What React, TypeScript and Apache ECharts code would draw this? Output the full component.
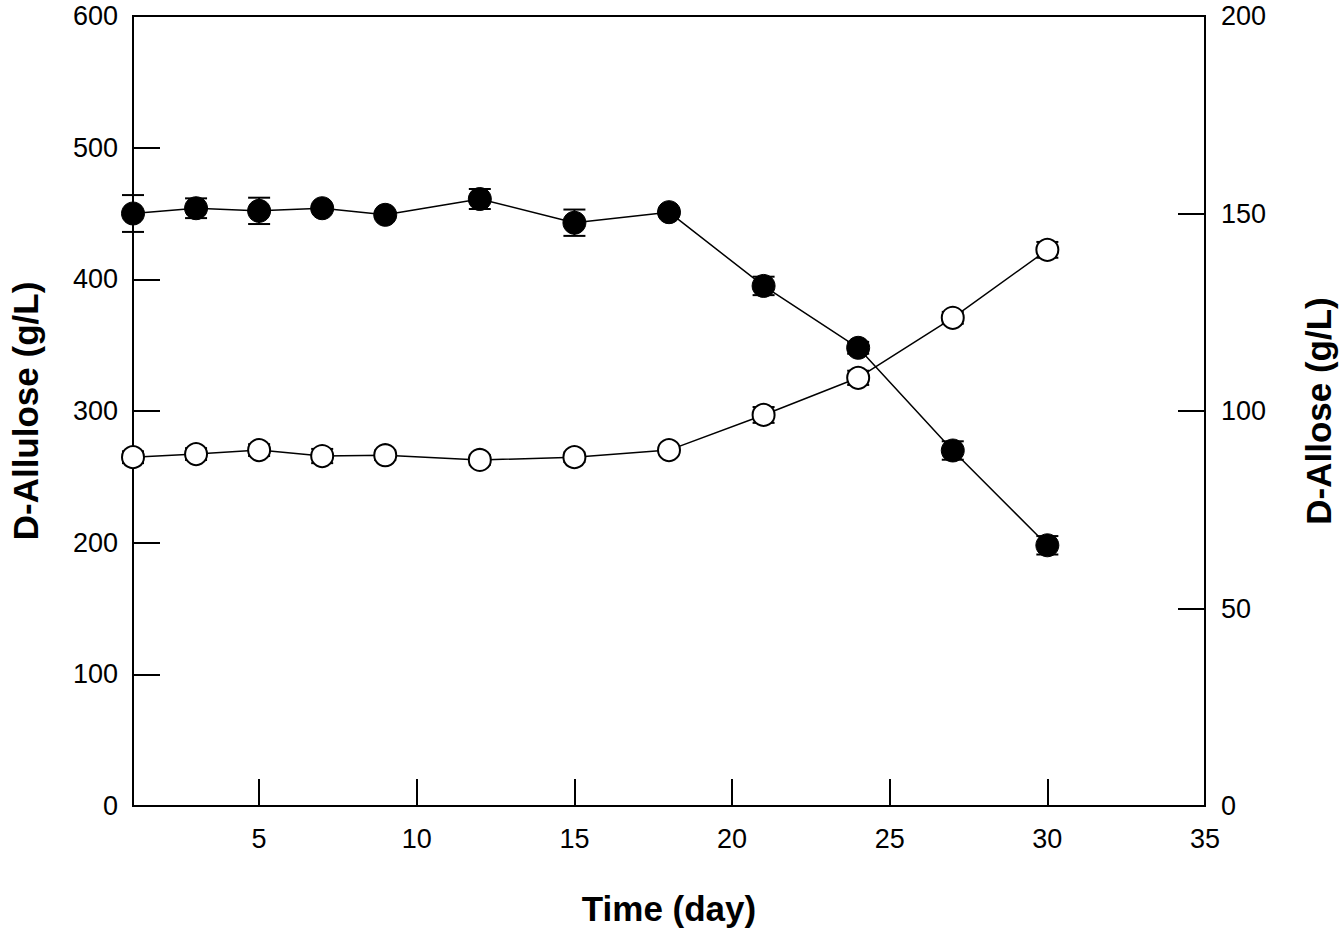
import React, { useEffect, useRef } from "react";
import * as echarts from "echarts";

const days = [1, 3, 5, 7, 9, 12, 15, 18, 21, 24, 27, 30];
const allulose = [450, 454, 452, 454, 449, 461, 443, 451, 395, 348, 270, 198];
const alluloseErr = [14, 7.5, 10, 2, 2, 7.6, 10, 3, 7, 4.5, 7, 7];
const allose = [88.3, 89.1, 90.1, 88.6, 88.8, 87.6, 88.3, 90.1, 99, 108.4, 123.6, 140.8];
const alloseErr = [1.5, 1.5, 1.5, 1.8, 1.2, 1.2, 1.2, 1, 2, 1.8, 1.5, 2];

const xTitle = "Time (day)";
const leftTitle = "D-Allulose (g/L)";
const rightTitle = "D-Allose (g/L)";

const FONT = "'Liberation Sans', Arial, sans-serif";

function errorRender(params: any, api: any) {
  const x = api.value(0);
  const lo = api.value(1);
  const hi = api.value(2);
  const p1 = api.coord([x, hi]);
  const p2 = api.coord([x, lo]);
  const hw = 11;
  const st = { stroke: "#000", lineWidth: 2 };
  return {
    type: "group",
    children: [
      { type: "line", shape: { x1: p1[0], y1: p1[1], x2: p2[0], y2: p2[1] }, style: st },
      { type: "line", shape: { x1: p1[0] - hw, y1: p1[1], x2: p1[0] + hw, y2: p1[1] }, style: st },
      { type: "line", shape: { x1: p2[0] - hw, y1: p2[1], x2: p2[0] + hw, y2: p2[1] }, style: st },
    ],
  };
}

export default function App() {
  const ref = useRef<HTMLDivElement>(null);
  useEffect(() => {
    if (!ref.current) return;
    const chart = echarts.init(ref.current, undefined, { renderer: "svg" });
    const axisLabel = { color: "#000", fontSize: 27, fontFamily: FONT };
    const axisLine = { show: true, lineStyle: { color: "#000", width: 2 } };
    const axisTick = { show: true, inside: true, length: 27, lineStyle: { color: "#000", width: 2 } };
    const nameStyle = { color: "#000", fontSize: 35, fontWeight: "bold" as const, fontFamily: FONT };

    chart.setOption({
      animation: false,
      backgroundColor: "#fff",
      grid: {
        left: 131,
        right: 138,
        top: 16,
        bottom: 125,
        show: true,
        borderColor: "#000",
        borderWidth: 2,
        containLabel: false,
      },
      xAxis: {
        type: "value",
        min: 1,
        max: 35,
        splitNumber: 7,
        name: xTitle,
        nameLocation: "middle",
        nameGap: 85,
        nameTextStyle: nameStyle,
        axisLine,
        axisTick,
        splitLine: { show: false },
        axisLabel: {
          ...axisLabel,
          margin: 19,
          formatter: (v: number) => (v % 5 === 0 ? String(v) : ""),
        },
      },
      yAxis: [
        {
          type: "value",
          min: 0,
          max: 600,
          interval: 100,
          name: leftTitle,
          nameLocation: "middle",
          nameRotate: 90,
          nameGap: 90,
          nameTextStyle: nameStyle,
          axisLine,
          axisTick,
          splitLine: { show: false },
          axisLabel: { ...axisLabel, margin: 15 },
        },
        {
          type: "value",
          position: "right",
          min: 0,
          max: 200,
          interval: 50,
          name: rightTitle,
          nameLocation: "middle",
          nameRotate: 90,
          nameGap: 96,
          nameTextStyle: nameStyle,
          axisLine,
          axisTick,
          splitLine: { show: false },
          axisLabel: { ...axisLabel, margin: 16 },
        },
      ],
      series: [
        {
          type: "custom",
          name: "alluloseErr",
          yAxisIndex: 0,
          z: 1,
          renderItem: errorRender,
          encode: { x: 0, y: [1, 2] },
          data: days.map((d, i) => [d, allulose[i] - alluloseErr[i], allulose[i] + alluloseErr[i]]),
        },
        {
          type: "custom",
          name: "alloseErr",
          yAxisIndex: 1,
          z: 1,
          renderItem: errorRender,
          encode: { x: 0, y: [1, 2] },
          data: days.map((d, i) => [d, allose[i] - alloseErr[i], allose[i] + alloseErr[i]]),
        },
        {
          type: "line",
          name: "D-Allulose",
          yAxisIndex: 0,
          z: 3,
          data: days.map((d, i) => [d, allulose[i]]),
          symbol: "circle",
          symbolSize: 23,
          itemStyle: { color: "#000", borderColor: "#000", borderWidth: 1 },
          lineStyle: { color: "#000", width: 1.5 },
        },
        {
          type: "line",
          name: "D-Allose",
          yAxisIndex: 1,
          z: 3,
          data: days.map((d, i) => [d, allose[i]]),
          symbol: "circle",
          symbolSize: 22,
          itemStyle: { color: "#fff", borderColor: "#000", borderWidth: 2 },
          lineStyle: { color: "#000", width: 1.5 },
        },
      ],
    });
    return () => chart.dispose();
  }, []);
  return (
    <div
      ref={ref}
      style={{ position: "absolute", left: 0, top: 0, width: 1344, height: 931, background: "#fff" }}
    />
  );
}
